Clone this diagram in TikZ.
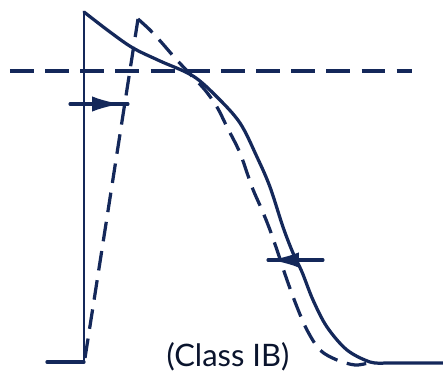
\documentclass[tikz,border=0pt]{standalone}
\usepackage{fontspec}
\setsansfont{Lato}
\usetikzlibrary{arrows.meta}
\definecolor{ink}{RGB}{20,40,90}

\begin{document}
\begin{tikzpicture}[x=0.025cm, y=-0.025cm, line join=round, line cap=round,
    trace/.style={ink, line width=2.3pt},
    drugtrace/.style={ink, line width=2.3pt, line cap=butt, dash pattern=on 14pt off 7pt},
    shiftmark/.style={ink, line width=2pt, -{Latex[length=0.72cm, width=0.38cm]}}]
  \useasboundingbox (0,0) rectangle (443,380);

  % Threshold level
  \draw[ink, line width=2.8pt, line cap=butt, dash pattern=on 17pt off 8pt] (10,71) -- (412,71);

  % Control action potential
  \draw[trace] (47,362) -- (84,362);
  \draw[ink, line width=1.6pt] (84,362) -- (84,12);
  \draw[trace] plot[smooth, tension=0.55] coordinates {(84,12) (110,32) (133,48) (160,61) (193,76)
    (217,97) (240,123) (257,157) (270,187) (283,227) (293,253) (302,272) (313,300) (327,327)
    (347,350) (370,362) (385,363)} -- (443,363);

  % With Class IB drug
  \draw[drugtrace] (85,358) -- (138,19);
  \draw[drugtrace] plot[smooth, tension=0.55] coordinates {(138,19) (150,30) (162,43) (175,58)
    (190,74) (205,90) (217,107) (227,127) (240,153) (252,187) (262,210) (270,230) (278,253)
    (287,280) (297,307) (307,330) (320,350) (337,360) (355,365) (368,363)};

  % Shift markers
  \draw[ink, line width=2.2pt] (70,104) -- (128,104);
  \draw[shiftmark] (92,104) -- (121,104);
  \draw[ink, line width=2.2pt] (268,260) -- (323,260);
  \draw[shiftmark] (302,260) -- (270,260);

  \node[font=\sffamily\fontsize{22}{24}\selectfont, ink!50!black] (label) at (228,357) {(Class IB)};
\end{tikzpicture}
\end{document}
